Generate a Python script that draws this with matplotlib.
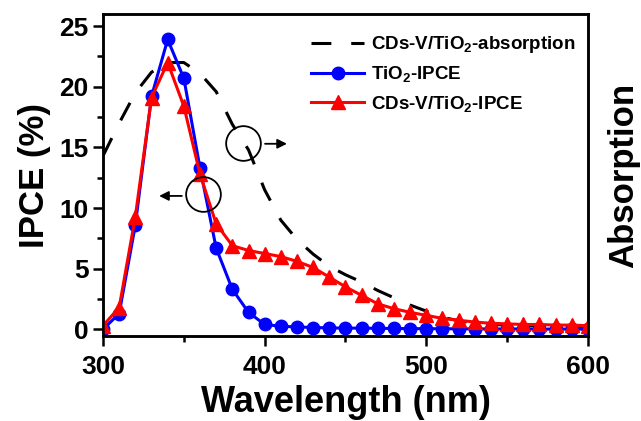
import numpy as np
import matplotlib.pyplot as plt

plt.rcParams["font.family"] = ["Liberation Sans", "DejaVu Sans"]
plt.rcParams["font.weight"] = "bold"
plt.rcParams["mathtext.fontset"] = "custom"
plt.rcParams["mathtext.rm"] = "Liberation Sans:bold"
plt.rcParams["mathtext.bf"] = "Liberation Sans:bold"
plt.rcParams["mathtext.default"] = "bf"

# wavelength grid (nm)
wavelength = np.arange(300, 601, 10)

# IPCE (%)
ipce_tio2 = [0.0, 1.3, 8.6, 19.2, 23.9, 20.7, 13.3, 6.7, 3.3, 1.4,
             0.4, 0.25, 0.2, 0.15, 0.12, 0.1, 0.1, 0.08, 0.07, 0.06,
             0.05, 0.05, 0.04, 0.04, 0.03, 0.03, 0.03, 0.02, 0.02, 0.02, 0.02]
ipce_cds = [0.3, 1.8, 9.3, 19.1, 22.0, 18.4, 12.8, 8.7, 6.9, 6.5,
            6.25, 6.0, 5.6, 5.1, 4.3, 3.5, 2.8, 2.1, 1.7, 1.4,
            1.15, 0.9, 0.75, 0.6, 0.5, 0.45, 0.4, 0.4, 0.35, 0.35, 0.3]

# absorption (arbitrary units, right axis)
absorption = [14.3, 17.0, 19.5, 21.2, 22.0, 22.0, 21.1, 19.6, 16.9, 14.8,
              11.5, 9.0, 7.4, 6.2, 5.2, 4.5, 3.9, 3.2, 2.6, 2.0,
              1.5, 1.0, 0.7, 0.5, 0.4, 0.35, 0.3, 0.3, 0.25, 0.2, 0.2]

fig = plt.figure(figsize=(6.41, 4.21), dpi=100)
ax = fig.add_axes([0.1607, 0.2019, 0.7566, 0.7648])
ax2 = ax.twinx()
ax.set_zorder(ax2.get_zorder() + 1)
ax.patch.set_visible(False)

l_abs, = ax2.plot(wavelength, absorption, color="black", lw=2.2,
                  dashes=(6.5, 6.5), label="CDs-V/TiO$_2$-absorption")
l_tio2, = ax.plot(wavelength, ipce_tio2, color="blue", lw=2.2, marker="o",
                  ms=9, label="TiO$_2$-IPCE")
l_cds, = ax.plot(wavelength, ipce_cds, color="red", lw=2.2, marker="^",
                 ms=10, label="CDs-V/TiO$_2$-IPCE")

ax.set_xlim(300, 600)
ax.set_ylim(-0.55, 26)
ax2.set_ylim(-0.55, 26)
ax2.set_yticks([])

ax.set_xticks([300, 400, 500, 600])
ax.set_xticks([350, 450, 550], minor=True)
ax.set_yticks([0, 5, 10, 15, 20, 25])
ax.set_yticks(np.arange(2.5, 25, 5), minor=True)
ax.tick_params(which="major", direction="out", length=7, width=1.8,
               labelsize=19, top=False, right=False)
ax.tick_params(axis="x", which="major", pad=7)
ax.tick_params(which="minor", direction="out", length=4, width=1.8,
               top=False, right=False)
for sp in list(ax.spines.values()) + list(ax2.spines.values()):
    sp.set_linewidth(1.8)

ax.set_xlabel("Wavelength (nm)", fontsize=26, fontweight="bold", labelpad=4)
ax.set_ylabel("IPCE (%)", fontsize=25, fontweight="bold", labelpad=6)
ax2.set_ylabel("Absorption", fontsize=25, fontweight="bold", labelpad=14)

# circles with arrows marking which axis each curve belongs to
ax.plot([386.6], [15.4], marker="o", ms=25, mfc="none", mec="black", mew=1.3)
ax.annotate("", xy=(415.5, 15.3), xytext=(398.5, 15.3),
            arrowprops=dict(arrowstyle="-|>", color="black", lw=1.3,
                            mutation_scale=14))
ax.plot([361.8], [11.2], marker="o", ms=25, mfc="none", mec="black", mew=1.3)
ax.annotate("", xy=(333.0, 11.0), xytext=(350.5, 11.0),
            arrowprops=dict(arrowstyle="-|>", color="black", lw=1.3,
                            mutation_scale=14))

leg = ax.legend(handles=[l_abs, l_tio2, l_cds], loc="upper left",
                bbox_to_anchor=(0.395, 0.99), frameon=False, fontsize=13.5,
                handlelength=2.8, handletextpad=0.35, labelspacing=0.5)
for t in leg.get_texts():
    t.set_fontweight("bold")

fig.savefig("out.png", dpi=100)
